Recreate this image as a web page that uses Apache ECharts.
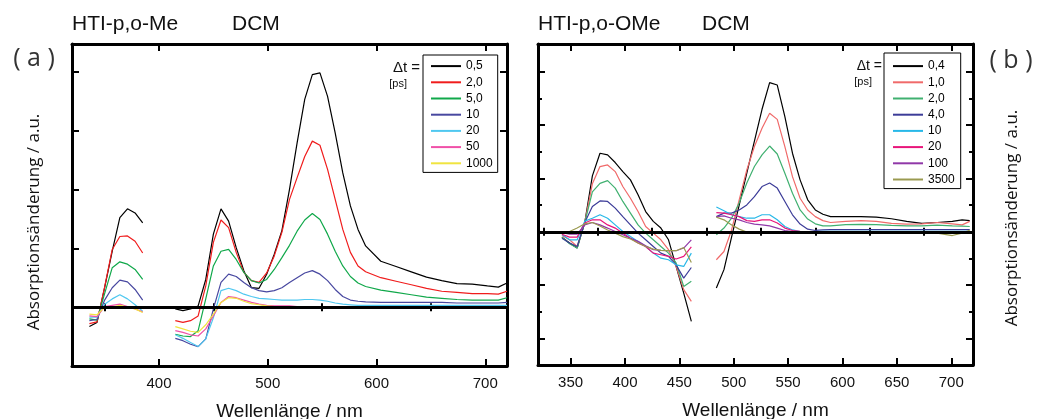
<!DOCTYPE html>
<html><head><meta charset="utf-8">
<script src="https://cdn.jsdelivr.net/npm/echarts@6/dist/echarts.min.js"></script>
<style>html,body{margin:0;padding:0;background:#fff}#c{width:1039px;height:419px}</style>
</head><body><div id="c"></div>
<script>
// ---------- Panel (a): HTI-p,o-Me in DCM ----------
const wlA1 = [336,343,350,357,364,371,378,385];
const wlA2 = [415,422,429,436,443,450,457,464,471,478,485,492,499,506,513,520,527,534,541,548,555,562,569,576,583,590,604,618,632,646,660,674,688,702,712,720];
const namesA = ['0,5','2,0','5,0','10','20','50','1000'];
const colorsA = ['#000000','#f01c1c','#10a84a','#4848a0','#50c8f0','#f050a8','#f0e440'];

const a1_t0_5 = [-0.33,-0.26,0.33,0.95,1.52,1.67,1.6,1.43];
const a1_t2   = [-0.28,-0.25,0.34,0.98,1.2,1.21,1.12,0.92];
const a1_t5   = [-0.2,-0.22,0.23,0.67,0.77,0.73,0.64,0.47];
const a1_t10  = [-0.23,-0.21,0.12,0.33,0.46,0.43,0.3,0.12];
const a1_t20  = [-0.17,-0.17,0.05,0.14,0.21,0.14,0.04,-0.07];
const a1_t50  = [-0.15,-0.16,0.01,0.03,0.05,0.01,-0.03,-0.08];
const a1_t1000= [-0.12,-0.13,0.0,0.0,0.03,0.0,-0.03,-0.09];

const a2_t0_5 = [-0.03,-0.06,-0.03,0.02,0.47,1.24,1.67,1.46,1.01,0.62,0.33,0.32,0.56,0.9,1.3,2.0,2.79,3.53,3.95,3.98,3.58,2.96,2.28,1.72,1.32,1.04,0.78,0.69,0.6,0.51,0.45,0.4,0.39,0.36,0.34,0.41];
const a2_t2   = [-0.23,-0.26,-0.23,-0.15,0.36,1.1,1.48,1.35,0.93,0.59,0.45,0.42,0.58,0.87,1.27,1.83,2.2,2.56,2.82,2.75,2.34,1.83,1.32,0.93,0.7,0.6,0.5,0.44,0.38,0.32,0.27,0.25,0.23,0.23,0.22,0.27];
const a2_t5   = [-0.46,-0.49,-0.5,-0.4,0.14,0.7,0.95,0.98,0.81,0.59,0.45,0.41,0.47,0.64,0.84,1.05,1.29,1.48,1.59,1.49,1.24,0.95,0.7,0.52,0.41,0.35,0.29,0.25,0.21,0.17,0.15,0.13,0.12,0.12,0.12,0.16];
const a2_t10  = [-0.53,-0.57,-0.63,-0.67,-0.54,-0.03,0.42,0.56,0.52,0.42,0.33,0.28,0.26,0.28,0.33,0.42,0.5,0.58,0.62,0.56,0.45,0.3,0.18,0.12,0.1,0.09,0.08,0.08,0.08,0.08,0.08,0.07,0.07,0.07,0.07,0.08];
const a2_t20  = [-0.47,-0.53,-0.6,-0.67,-0.54,-0.18,0.28,0.32,0.28,0.22,0.18,0.15,0.14,0.13,0.12,0.12,0.12,0.13,0.13,0.12,0.1,0.07,0.05,0.04,0.03,0.03,0.03,0.03,0.03,0.03,0.03,0.03,0.03,0.03,0.03,0.03];
const a2_t50  = [-0.4,-0.43,-0.47,-0.49,-0.37,-0.15,0.08,0.18,0.16,0.12,0.08,0.05,0.03,0.02,0.02,0.02,0.01,0.01,0.01,0.01,0.01,0.01,0.01,0.01,0.01,0.01,0.01,0.01,0.01,0.01,0.01,0.01,0.01,0.01,0.01,0.01];
const a2_t1000= [-0.33,-0.37,-0.41,-0.43,-0.3,-0.12,0.08,0.16,0.15,0.1,0.06,0.04,0.02,0.01,0.01,0.01,0,0,0,0,0,0,0,0,0,0,0,0,0,0,0,0,0,0,0,0];

// ---------- Panel (b): HTI-p,o-OMe in DCM ----------
const wlB1 = [342,349,356,363,370,377,384,391,398,405,412,419,426,433,440,447,454,461];
const wlB2 = [484,491,498,505,512,519,526,533,540,547,554,561,568,575,582,589,603,617,631,645,659,673,687,701,710,717];
const namesB = ['0,4','1,0','2,0','4,0','10','20','100','3500'];
const colorsB = ['#000000','#f06a6a','#40b070','#3c3c98','#28b8e8','#e8157a','#9038a8','#9a9a50'];

const b1_t0_4 = [-0.2,-0.42,-0.61,0.35,2.1,2.95,2.89,2.6,2.26,1.95,1.39,0.76,0.39,0.14,-0.3,-1.3,-2.3,-3.36];
const b1_t1   = [-0.14,-0.3,-0.55,0.35,1.8,2.45,2.51,2.26,1.7,1.26,0.76,0.2,-0.05,-0.3,-0.67,-1.3,-2.17,-2.61];
const b1_t2   = [-0.2,-0.45,-0.61,0.35,1.5,1.82,1.92,1.64,1.14,0.7,0.26,-0.05,-0.3,-0.55,-0.8,-1.17,-2.05,-1.86];
const b1_t4   = [-0.24,-0.42,-0.55,0.35,0.95,1.16,1.14,0.89,0.57,0.26,-0.05,-0.3,-0.55,-0.8,-0.92,-1.24,-1.74,-1.34];
const b1_t10  = [-0.1,-0.3,-0.3,0.4,0.51,0.64,0.51,0.26,0.01,-0.18,-0.36,-0.55,-0.8,-0.99,-1.05,-1.24,-1.3,-0.8];
const b1_t20  = [-0.09,-0.2,-0.2,0.33,0.45,0.45,0.26,0.14,-0.05,-0.24,-0.42,-0.55,-0.8,-0.86,-0.92,-1.02,-0.92,-0.57];
const b1_t100 = [-0.03,-0.09,-0.09,0.26,0.35,0.26,0.14,0.01,-0.11,-0.24,-0.36,-0.52,-0.67,-0.7,-0.71,-0.71,-0.61,-0.3];
const b1_t3500= [-0.04,0.01,0.14,0.3,0.35,0.22,0.07,-0.05,-0.18,-0.27,-0.42,-0.55,-0.65,-0.7,-0.71,-0.71,-0.59,-1.15];

const b2_t0_4 = [-2.11,-1.42,-0.2,1.0,2.2,3.4,4.6,5.6,5.51,4.32,2.95,1.95,1.2,0.82,0.66,0.57,0.57,0.57,0.55,0.49,0.39,0.32,0.35,0.39,0.45,0.42];
const b2_t1   = [-1.05,-0.74,0.07,1.2,2.32,3.2,3.89,4.45,4.22,3.2,2.07,1.26,0.82,0.57,0.42,0.35,0.39,0.42,0.39,0.32,0.29,0.3,0.35,0.3,0.26,0.39];
const b2_t2   = [-0.11,0.14,0.51,1.08,1.83,2.45,2.89,3.22,2.92,2.2,1.45,0.82,0.48,0.3,0.22,0.22,0.27,0.28,0.27,0.24,0.22,0.22,0.25,0.22,0.21,0.2];
const b2_t4   = [0.57,0.7,0.7,0.82,1.01,1.32,1.7,1.83,1.64,1.14,0.64,0.29,0.1,0.05,0.07,0.08,0.08,0.08,0.08,0.08,0.08,0.08,0.08,0.08,0.08,0.08];
const b2_t10  = [0.93,0.79,0.64,0.57,0.51,0.51,0.64,0.64,0.45,0.2,0.07,0.01,0.01,0.01,0.02,0.02,0.02,0.02,0.02,0.02,0.02,0.02,0.02,0.02,0.02,0.02];
const b2_t20  = [0.72,0.7,0.64,0.57,0.42,0.39,0.45,0.45,0.33,0.14,0.05,0.02,0,0,0,0,0,0,0,0,0,0,0,0,0,0];
const b2_t100 = [0.57,0.6,0.51,0.45,0.35,0.29,0.26,0.22,0.14,0.05,0.01,0,0,0,0,0,0,0,0,0,0,0,0,0,0,0];
const b2_t3500= [0.55,0.45,0.26,0.1,-0.01,-0.05,-0.06,-0.06,-0.05,-0.04,-0.03,-0.03,-0.03,-0.03,-0.03,-0.03,-0.03,-0.03,-0.03,-0.03,-0.03,-0.03,-0.05,-0.14,-0.05,0.06];

// axis tick values
const ticksA_xMajor = [400,500,600,700];
const ticksA_xMinor = [350,450,550,650];
const ticksA_y = [0,1,2,3,4];
const ticksB_xMajor = [350,400,450,500,550,600,650,700];
const ticksB_xMinor = [325,375,425,475,525,575,625,675];
const ticksB_yMajor = [-4,-2,0,2,4,6];
const ticksB_yMinor = [-3,-1,1,3,5];

const segA1 = [a1_t0_5,a1_t2,a1_t5,a1_t10,a1_t20,a1_t50,a1_t1000];
const segA2 = [a2_t0_5,a2_t2,a2_t5,a2_t10,a2_t20,a2_t50,a2_t1000];
const segB1 = [b1_t0_4,b1_t1,b1_t2,b1_t4,b1_t10,b1_t20,b1_t100,b1_t3500];
const segB2 = [b2_t0_4,b2_t1,b2_t2,b2_t4,b2_t10,b2_t20,b2_t100,b2_t3500];

const FONT = '"Liberation Sans", Arial, sans-serif';
const HUM = '"Open Sans", "Noto Sans", sans-serif';

function xAxes(g, min, max, majors, minors, label) {
  const tickStyle = {color:'#000', width:2};
  const base = {gridIndex:g, type:'value', min, max, splitLine:{show:false},
    axisLabel:{show:false}, axisTick:{show:false}, axisLine:{show:false}};
  return [
    {...base, position:'bottom', name:label, nameLocation:'middle', nameGap:36,
      nameTextStyle:{fontFamily:FONT, fontSize:19, color:'#111'},
      axisLine:{show:true, onZero:false, lineStyle:{color:'#000', width:3}},
      axisTick:{show:true, inside:true, length:7, lineStyle:tickStyle, customValues:majors},
      axisLabel:{show:true, customValues:majors, margin:10, fontSize:15, color:'#111', fontFamily:FONT}},
    {...base, position:'bottom', axisTick:{show:true, inside:true, length:4, lineStyle:tickStyle, customValues:minors}},
    {...base, position:'top', axisLine:{show:true, onZero:false, lineStyle:{color:'#000', width:3}},
      axisTick:{show:true, inside:true, length:7, lineStyle:tickStyle, customValues:majors}},
    {...base, position:'top', axisTick:{show:true, inside:true, length:4, lineStyle:tickStyle, customValues:minors}}
  ];
}
function yAxes(g, min, max, majors, minors) {
  const tickStyle = {color:'#000', width:2};
  const base = {gridIndex:g, type:'value', min, max, splitLine:{show:false},
    axisLabel:{show:false}, axisTick:{show:false}, axisLine:{show:false}};
  const out = [
    {...base, position:'left', axisLine:{show:true, onZero:false, lineStyle:{color:'#000', width:3}},
      axisTick:{show:true, inside:true, length:7, lineStyle:tickStyle, customValues:majors}},
    {...base, position:'right', axisLine:{show:true, onZero:false, lineStyle:{color:'#000', width:3}},
      axisTick:{show:true, inside:true, length:7, lineStyle:tickStyle, customValues:majors}}
  ];
  if (minors) {
    out.push({...base, position:'left', axisTick:{show:true, inside:true, length:4, lineStyle:tickStyle, customValues:minors}});
    out.push({...base, position:'right', axisTick:{show:true, inside:true, length:4, lineStyle:tickStyle, customValues:minors}});
  }
  return out;
}

const xAxis = [...xAxes(0,320,720,ticksA_xMajor,ticksA_xMinor,'Wellenlänge / nm'),
               ...xAxes(1,320,720,ticksB_xMajor,ticksB_xMinor,'Wellenlänge / nm')];
const yA = yAxes(0,-1,4.47,ticksA_y,null);
const yB = yAxes(1,-5,7.05,ticksB_yMajor,ticksB_yMinor);
const yAxis = [...yA, ...yB];
const yIdxB = yA.length;

const zeroLine = {silent:true, symbol:'none', label:{show:false},
  lineStyle:{color:'#000', width:3, type:'solid'}, data:[{yAxis:0}]};

const series = [];
function addPanel(prefix, names, colors, wl1, seg1, wl2, seg2, xi, yi) {
  names.forEach((n, k) => {
    [[wl1, seg1[k]], [wl2, seg2[k]]].forEach(([wl, vals], s) => {
      series.push({
        name: prefix + n, type:'line', xAxisIndex:xi, yAxisIndex:yi,
        symbol:'none', silent:true, animation:false,
        lineStyle:{color:colors[k], width:1.2}, itemStyle:{color:colors[k]},
        data: wl.map((x, i) => [x, vals[i]]),
        markLine: (k === 0 && s === 0) ? zeroLine : undefined,
        z: 3
      });
    });
  });
}
addPanel('a', namesA, colorsA, wlA1, segA1, wlA2, segA2, 0, 0);
addPanel('b', namesB, colorsB, wlB1, segB1, wlB2, segB2, 4, yIdxB);

const legendCommon = {orient:'vertical', icon:'rect', itemWidth:30, itemHeight:2, itemGap:0,
  borderColor:'#000', borderWidth:1, backgroundColor:'#fff', borderRadius:0, selectedMode:false,
  formatter: n => n.slice(1),
  textStyle:{fontFamily:FONT, fontSize:12, color:'#000', lineHeight:16.2}};

const txt = (text, x, y, font, opts={}) => ({type:'text', x, y, silent:true,
  rotation: opts.rotation || 0,
  style:{text, font, fill: opts.fill || '#111', align: opts.align || 'left', verticalAlign:'middle'}});

const chart = echarts.init(document.getElementById('c'), null, {renderer:'canvas'});
chart.setOption({
  animation:false,
  backgroundColor:'#fff',
  grid:[{left:72, top:44, width:435, height:322, outerBoundsMode:'none', containLabel:false},
        {left:538, top:44, width:435, height:321, outerBoundsMode:'none', containLabel:false}],
  xAxis, yAxis, series,
  legend:[
    {...legendCommon, left:423, top:55, padding:[3,5,1,8], data:namesA.map(n => 'a'+n)},
    {...legendCommon, left:884, top:53, padding:[5,6,1,9], data:namesB.map(n => 'b'+n)}
  ],
  graphic:[
    txt('HTI-p,o-Me', 72, 24, '21px ' + FONT),
    txt('DCM', 232, 24, '21px ' + FONT),
    txt('HTI-p,o-OMe', 538, 24, '21px ' + FONT),
    txt('DCM', 702, 24, '21px ' + FONT),
    txt('( a )', 34, 59, '25px ' + HUM, {align:'center', fill:'#333'}),
    txt('( b )', 1011, 61, '25px ' + HUM, {align:'center', fill:'#333'}),
    txt('Δt =', 420, 68, '15px ' + FONT, {align:'right'}),
    txt('[ps]', 407, 84, '11px ' + FONT, {align:'right'}),
    txt('Δt =', 882, 66, '14px ' + FONT, {align:'right'}),
    txt('[ps]', 872, 82, '11px ' + FONT, {align:'right'}),
    txt('Absorptionsänderung / a.u.', 34, 222, '17px ' + HUM, {align:'center', rotation:Math.PI/2}),
    txt('Absorptionsänderung / a.u.', 1012, 218, '17px ' + HUM, {align:'center', rotation:Math.PI/2})
  ]
});
</script></body></html>
